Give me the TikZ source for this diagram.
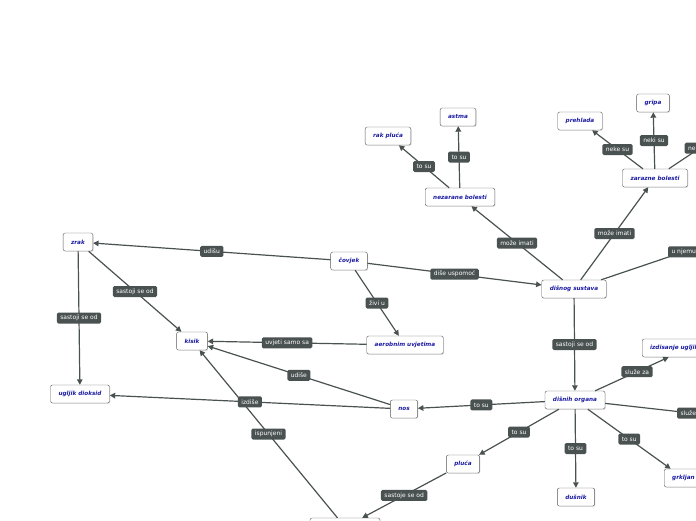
\documentclass[tikz,border=0pt]{standalone}
\usepackage{fontspec}
\setmainfont{DejaVu Sans}
\usetikzlibrary{arrows.meta,shadows}
\definecolor{tamnosiva}{HTML}{4A5151}
\definecolor{pojamplava}{HTML}{1B1BA3}
\tikzset{
  pojam/.style={draw=gray!70!black, rounded corners=2pt, fill=white, text=pojamplava,
    drop shadow={shadow xshift=.8pt, shadow yshift=-.8pt, opacity=.25},
    font=\fontsize{5.7}{6}\selectfont\bfseries\itshape, minimum height=18pt, inner xsep=8pt},
  veza/.style={fill=tamnosiva, text=white, rounded corners=1.5pt,
    font=\fontsize{6}{7}\selectfont, minimum height=11pt, inner xsep=3.5pt, inner ysep=1pt},
  crta/.style={draw=tamnosiva, line width=1.2pt},
  strelica/.style={crta, -{Triangle[length=5.5pt,width=5.5pt]}}
}

\begin{document}
\begin{tikzpicture}[x=1pt,y=-1pt]
    \useasboundingbox (0,0) rectangle (696,520);
    \clip (0,0) rectangle (696,520);
    \node[pojam] (zrak) at (78,242) {zrak};
    \node[pojam] (covjek) at (349,261) {čovjek};
    \node[pojam] (kisik) at (192,341) {kisik};
    \node[pojam] (aerobni) at (405,345) {aerobnim uvjetima};
    \node[pojam] (ugljik) at (80,394) {ugljik dioksid};
    \node[pojam] (nos) at (404,409) {nos};
    \node[pojam] (sustav) at (574,289) {dišnog sustava};
    \node[pojam] (nezarazne) at (460,197) {nezarane bolesti};
    \node[pojam] (rak) at (388,136) {rak pluća};
    \node[pojam] (astma) at (458,117) {astma};
    \node[pojam] (zarazne) at (655,178) {zarazne bolesti};
    \node[pojam] (prehlada) at (580,121) {prehlada};
    \node[pojam] (gripa) at (653,103) {gripa};
    \node[pojam] (organi) at (575,400) {dišnih organa};
    \node[pojam] (pluca) at (463,464) {pluća};
    \node[pojam] (dusnik) at (576,497) {dušnik};
    \node[pojam, anchor=west] (grkljan) at (664,478) {grkljan};
    \node[pojam, anchor=west] (izdisanje) at (642,348) {izdisanje ugljik dioksida};
    \node[pojam, minimum width=70pt] (donji) at (345,527) {};
    \coordinate (izvan1) at (748,116);
    \coordinate (izvan2) at (760,226);
    \coordinate (izvan3) at (780,423);
    \draw[strelica] (covjek) -- node[veza] (udisu) {udišu} (zrak);
    \draw[strelica] (covjek) -- node[veza] (dise) {diše uspomoć} (sustav);
    \draw[strelica] (covjek) -- node[veza] (zivi) {živi u} (aerobni);
    \draw[strelica] (zrak) -- node[veza] (sastoji1) {sastoji se od} (kisik);
    \draw[strelica] (zrak) -- node[veza] (sastoji2) {sastoji se od} (ugljik);
    \draw[strelica] (aerobni) -- node[veza] (uvjeti) {uvjeti samo sa} (kisik);
    \draw[strelica] (nos) -- node[veza] (udise) {udiše} (kisik);
    \draw[strelica] (donji) -- node[veza] (ispunjeni) {ispunjeni} (kisik);
    \draw[strelica] (nos) -- node[veza] (izdise) {izdiše} (ugljik);
    \draw[strelica] (sustav) -- node[veza] (moze1) {može imati} (nezarazne);
    \draw[strelica] (sustav) -- node[veza] (moze2) {može imati} (zarazne);
    \draw[crta] (sustav) -- node[veza, pos=.52] (unjemu) {u njemu} (izvan2);
    \draw[strelica] (nezarazne) -- node[veza] (tosu1) {to su} (rak);
    \draw[strelica] (nezarazne) -- node[veza] (tosu2) {to su} (astma);
    \draw[strelica] (zarazne) -- node[veza] (nekesu1) {neke su} (prehlada);
    \draw[strelica] (zarazne) -- node[veza] (nekisu) {neki su} (gripa);
    \draw[crta] (zarazne) -- node[veza, pos=.39] (nekesu2) {neke su} (izvan1);
    \draw[strelica] (sustav) -- node[veza] (sastoji3) {sastoji se od} (organi);
    \draw[strelica] (organi) -- node[veza] (tosu3) {to su} (nos);
    \draw[strelica] (organi) -- node[veza] (tosu4) {to su} (pluca);
    \draw[strelica] (organi) -- node[veza] (tosu5) {to su} (dusnik);
    \draw[strelica] (organi) -- node[veza] (tosu6) {to su} (grkljan);
    \draw[strelica] (organi) -- node[veza, pos=.57] (sluze1) {služe za} (izdisanje);
    \draw[crta] (organi) -- node[veza] (sluze2) {služe za} (izvan3);
    \draw[strelica] (pluca) -- node[veza] (sastoje) {sastoje se od} (donji);
\end{tikzpicture}
\end{document}
